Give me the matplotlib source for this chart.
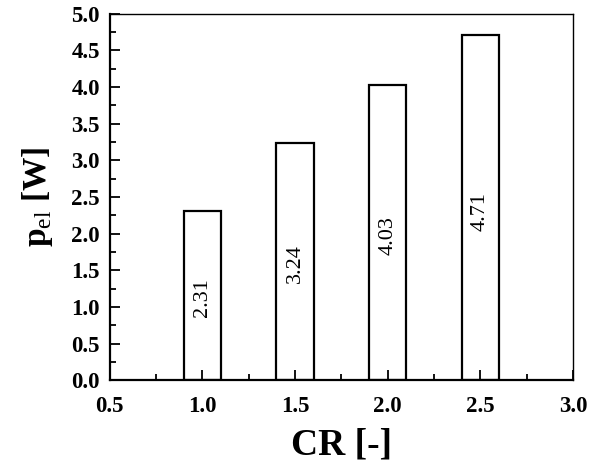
import matplotlib
matplotlib.use('Agg')
import matplotlib.pyplot as plt
from matplotlib.ticker import MultipleLocator

plt.rcParams['font.family'] = ['Liberation Serif', 'DejaVu Serif']
plt.rcParams['mathtext.fontset'] = 'custom'
plt.rcParams['mathtext.rm'] = 'Liberation Serif'
plt.rcParams['mathtext.bf'] = 'Liberation Serif:bold'

# data
cr = [1.0, 1.5, 2.0, 2.5]
p_el = [2.31, 3.24, 4.03, 4.71]
bar_labels = ['2.31', '3.24', '4.03', '4.71']

fig = plt.figure(figsize=(5.9, 4.62), dpi=100)
ax = fig.add_axes([0.186, 0.177, 0.785, 0.793])

ax.bar(cr, p_el, width=0.2, color='white', edgecolor='black', linewidth=1.6)
for x, y, s in zip(cr, p_el, bar_labels):
    ax.text(x, y * 0.49, s, rotation=90, ha='center', va='center', fontsize=16)

ax.set_xlim(0.5, 3.0)
ax.set_ylim(0, 5.0)
ax.xaxis.set_major_locator(MultipleLocator(0.5))
ax.xaxis.set_minor_locator(MultipleLocator(0.25))
ax.yaxis.set_major_locator(MultipleLocator(0.5))
ax.yaxis.set_minor_locator(MultipleLocator(0.25))
ax.xaxis.set_major_formatter(plt.FormatStrFormatter('%.1f'))
ax.yaxis.set_major_formatter(plt.FormatStrFormatter('%.1f'))

ax.tick_params(which='both', direction='in', top=False, right=False, width=1.3)
ax.tick_params(which='major', length=7, labelsize=16.5)
ax.tick_params(axis='x', which='major', pad=11)
ax.tick_params(axis='y', which='major', pad=7)
ax.tick_params(which='minor', length=4)
for lab in ax.get_xticklabels() + ax.get_yticklabels():
    lab.set_fontweight('bold')

for side in ['left', 'bottom']:
    ax.spines[side].set_linewidth(1.6)
for side in ['top', 'right']:
    ax.spines[side].set_linewidth(1.0)

ax.set_xlabel('CR [-]', fontsize=27, fontweight='bold', labelpad=8)
ax.set_ylabel(r'$\mathbf{p}_{\mathrm{el}}$ [W]', fontsize=24, fontweight='bold', labelpad=12)

fig.savefig('out.png', dpi=100)
